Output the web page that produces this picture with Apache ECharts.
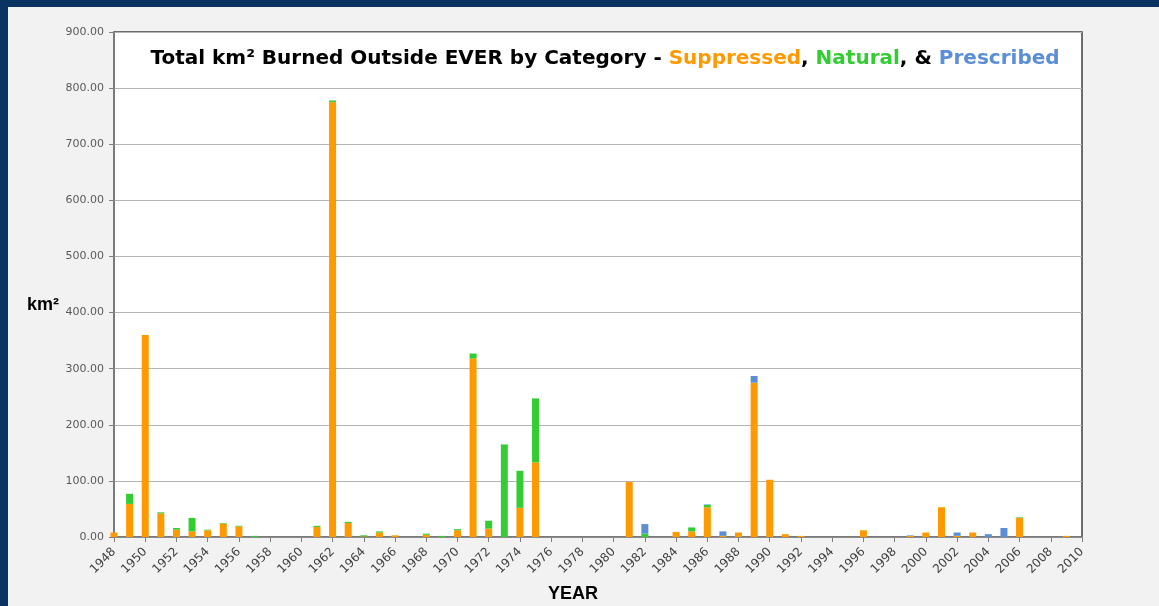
<!DOCTYPE html>
<html>
<head>
<meta charset="utf-8">
<script src="https://cdn.jsdelivr.net/npm/echarts@6/dist/echarts.min.js"></script>
<style>
    html, body { margin: 0; padding: 0; background: #0b3361; }
    #mainChart { position: absolute; left: 8px; top: 7px; width: 1151px; height: 599px; background: #f2f2f2; }
</style>
</head>
<body>
<div id="mainChart"></div>
<script>
var years = [
    "1948","1949","1950","1951","1952","1953","1954","1955","1956","1957",
    "1958","1959","1960","1961","1962","1963","1964","1965","1966","1967",
    "1968","1969","1970","1971","1972","1973","1974","1975","1976","1977",
    "1978","1979","1980","1981","1982","1983","1984","1985","1986","1987",
    "1988","1989","1990","1991","1992","1993","1994","1995","1996","1997",
    "1998","1999","2000","2001","2002","2003","2004","2005","2006","2007",
    "2008","2009","2010"
];
var suppressed = [
    8, 59, 360, 42, 13, 10, 12, 24, 19, 0,
    0, 0, 0, 18, 775, 25, 1, 8, 3, 0,
    4, 0, 12, 318, 15, 0, 52, 133, 0, 0,
    0, 0, 0, 98, 0, 0, 9, 10, 53, 2,
    8, 275, 102, 5, 2, 0, 0, 0, 12, 0,
    0, 2, 8, 53, 2, 8, 0, 0, 34, 0,
    0, 2, 0
];
var natural = [
    0, 18, 0, 2, 3, 24, 1, 1, 1, 2,
    0, 0, 0, 2, 3, 2, 2, 2, 0, 0,
    2, 2, 2, 9, 14, 165, 66, 114, 0, 0,
    0, 0, 0, 0, 6, 0, 0, 7, 4, 0,
    0, 0, 0, 0, 0, 0, 0, 0, 0, 0,
    0, 0, 0, 0, 0, 0, 0, 0, 1, 0,
    0, 0, 0
];
var prescribed = [
    0, 0, 0, 0, 0, 0, 0, 0, 0, 0,
    0, 0, 0, 0, 0, 0, 0, 0, 0, 0,
    0, 0, 0, 0, 0, 0, 0, 0, 0, 0,
    0, 0, 0, 0, 17, 0, 0, 0, 1, 8,
    0, 12, 0, 0, 0, 0, 0, 0, 0, 0,
    0, 1, 0, 0, 6, 0, 5, 16, 0, 0,
    0, 0, 0
];

var myChart = echarts.init(document.getElementById("mainChart"));
var fnt = "DejaVu Sans";
var tf = { fontFamily: fnt, fontWeight: "bold", fontSize: 20 };
var option = {
    animation: false,
    graphic: [{
        type: "text",
        x: 597, y: 52,
        style: {
            text: "{a|Total km² Burned Outside EVER by Category - }{s|Suppressed}{a|, }{n|Natural}{a|, & }{p|Prescribed}",
            align: "center",
            verticalAlign: "middle",
            rich: {
                a: Object.assign({ fill: "#000" }, tf),
                s: Object.assign({ fill: "#ff9900" }, tf),
                n: Object.assign({ fill: "#33cc33" }, tf),
                p: Object.assign({ fill: "#5b8ed6" }, tf)
            }
        }
    }, {
        type: "text",
        x: 35, y: 298,
        style: {
            text: "km²", align: "center", verticalAlign: "middle",
            fontFamily: "Liberation Sans", fontWeight: "bold", fontSize: 18, fill: "#000"
        }
    }, {
        type: "text",
        x: 565, y: 587,
        style: {
            text: "YEAR", align: "center", verticalAlign: "middle",
            fontFamily: "Liberation Sans", fontWeight: "bold", fontSize: 18, fill: "#000"
        }
    }],
    grid: {
        left: 106,
        right: 77,
        top: 25,
        bottom: 69,
        show: true,
        backgroundColor: "#ffffff",
        borderColor: "#404040",
        borderWidth: 1.5
    },
    xAxis: {
        type: "category",
        data: years,
        boundaryGap: false,
        axisLine: { lineStyle: { color: "#7f7f7f", width: 1.5 } },
        axisTick: { interval: 1, length: 5, lineStyle: { color: "#7f7f7f" } },
        axisLabel: {
            interval: 1,
            rotate: 45,
            fontFamily: fnt,
            fontSize: 12,
            color: "#404040",
            margin: 13
        }
    },
    yAxis: {
        type: "value",
        min: 0,
        max: 900,
        interval: 100,
        axisLine: { show: true, lineStyle: { color: "#7f7f7f", width: 1.5 } },
        axisTick: { show: true, length: 5, lineStyle: { color: "#7f7f7f" } },
        splitLine: { lineStyle: { color: "#b4b4b4", width: 1 } },
        axisLabel: {
            fontFamily: fnt,
            fontSize: 11,
            color: "#595959",
            margin: 10,
            formatter: function (v) { return v.toFixed(2); }
        }
    },
    series: [{
        name: "Suppressed",
        type: "bar",
        stack: "total",
        data: suppressed,
        barWidth: 7,
        itemStyle: { color: "#ff9900" }
    }, {
        name: "Natural",
        type: "bar",
        stack: "total",
        data: natural,
        barWidth: 7,
        itemStyle: { color: "#33cc33" }
    }, {
        name: "Prescribed",
        type: "bar",
        stack: "total",
        data: prescribed,
        barWidth: 7,
        itemStyle: { color: "#5b8ed6" }
    }]
};
myChart.setOption(option);
</script>
</body>
</html>
